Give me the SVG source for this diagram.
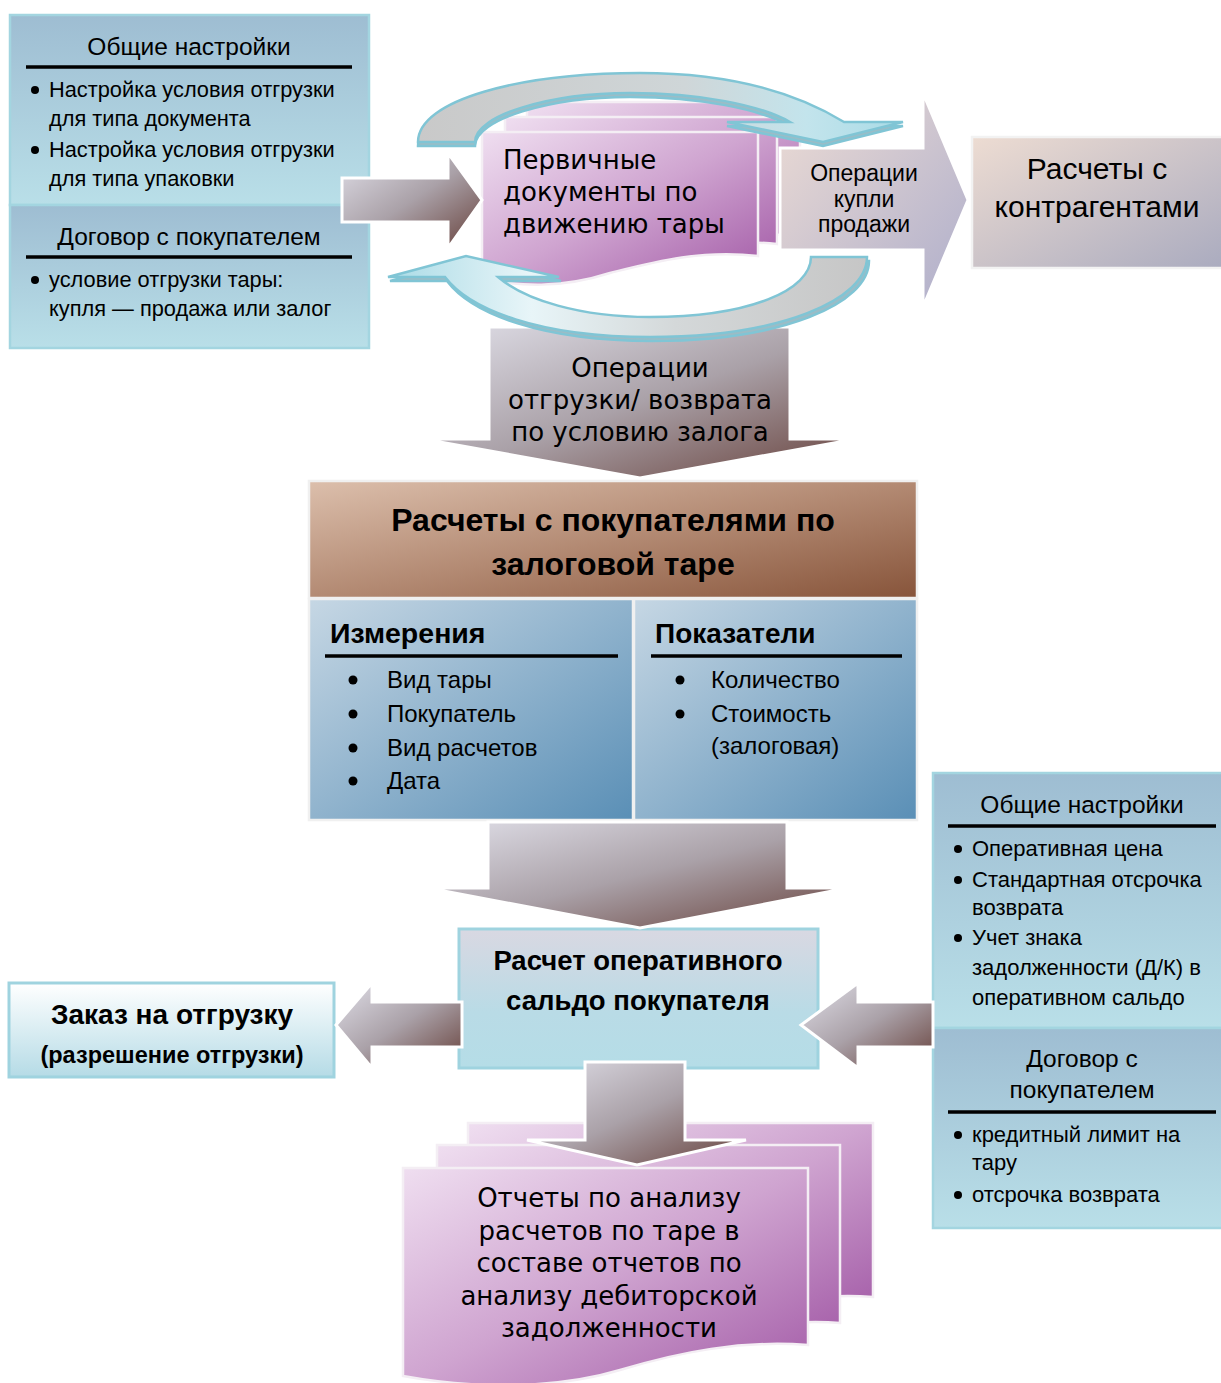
<svg xmlns="http://www.w3.org/2000/svg" width="1221" height="1383" viewBox="0 0 1221 1383">
<defs>
<linearGradient id="gBox" x1="0" y1="0" x2="0" y2="1"><stop offset="0" stop-color="#9ebdd2"/><stop offset="1" stop-color="#b9dfe8"/></linearGradient>
<linearGradient id="gArrow" x1="0" y1="0" x2="1" y2="1"><stop offset="0" stop-color="#e0dfe8"/><stop offset="0.5" stop-color="#aaa1a8"/><stop offset="1" stop-color="#66403a"/></linearGradient>
<linearGradient id="gPink" x1="0" y1="0" x2="1" y2="1"><stop offset="0" stop-color="#efdef0"/><stop offset="0.5" stop-color="#cfa4d0"/><stop offset="1" stop-color="#a35ba7"/></linearGradient>
<linearGradient id="gOps" x1="0" y1="0" x2="1" y2="1"><stop offset="0" stop-color="#eddcd4"/><stop offset="1" stop-color="#aeaecb"/></linearGradient>
<linearGradient id="gKontr" x1="0" y1="0" x2="1" y2="1"><stop offset="0" stop-color="#eddcd2"/><stop offset="1" stop-color="#aaabbf"/></linearGradient>
<linearGradient id="gBrown" x1="0" y1="0" x2="1" y2="1"><stop offset="0" stop-color="#dcbfac"/><stop offset="0.5" stop-color="#b38a73"/><stop offset="1" stop-color="#87543a"/></linearGradient>
<linearGradient id="gPanel" x1="0" y1="0" x2="1" y2="1"><stop offset="0" stop-color="#c6d7e4"/><stop offset="1" stop-color="#5a8fb6"/></linearGradient>
<linearGradient id="gCalc" x1="0" y1="0" x2="0" y2="1"><stop offset="0" stop-color="#d9d8e2"/><stop offset="0.6" stop-color="#b9dbe6"/><stop offset="1" stop-color="#b5dde7"/></linearGradient>
<linearGradient id="gOrder" x1="0" y1="0" x2="0" y2="1"><stop offset="0" stop-color="#ffffff"/><stop offset="1" stop-color="#b5dbe6"/></linearGradient>
<linearGradient id="gArcTop" x1="0" y1="0" x2="1" y2="0"><stop offset="0" stop-color="#c9c9c9"/><stop offset="0.55" stop-color="#cfd6d8"/><stop offset="0.8" stop-color="#c3e4ec"/><stop offset="1" stop-color="#a9dbe6"/></linearGradient>
<linearGradient id="gArcBot" x1="0" y1="0" x2="1" y2="0"><stop offset="0" stop-color="#aadbe6"/><stop offset="0.3" stop-color="#e8f5f8"/><stop offset="0.6" stop-color="#d4d8d9"/><stop offset="1" stop-color="#c6c6c6"/></linearGradient>
<style>
.t{font-family:"Liberation Sans",Arial,sans-serif;fill:#000}
.v{font-family:"DejaVu Sans",Verdana,sans-serif;fill:#000}
.b{font-weight:bold}
.box{stroke:#a3d5e0;stroke-width:2.5}
.arr{fill:url(#gArrow);stroke:#ffffff;stroke-width:3}
.doc{fill:url(#gPink);stroke:#f4eef4;stroke-width:2.5}
.arc{stroke:#80c5d5;stroke-width:2.5}
.ul{stroke:#000;stroke-width:3.5}
.dot{fill:#000}
</style>
</defs>
<rect width="1221" height="1383" fill="#ffffff"/>

<g id="node-settings-top">
<rect x="10" y="15" width="359" height="190" fill="url(#gBox)" class="box"/>
<rect x="10" y="205" width="359" height="143" fill="url(#gBox)" class="box"/>
<text x="189" y="55" class="t" font-size="24.5" text-anchor="middle">Общие настройки</text>
<line x1="26" y1="67" x2="352" y2="67" class="ul"/>
<circle cx="35" cy="90" r="4" class="dot"/>
<text x="49" y="97" class="t" font-size="21.8">Настройка условия отгрузки</text>
<text x="49" y="126" class="t" font-size="21.8">для типа документа</text>
<circle cx="35" cy="150" r="4" class="dot"/>
<text x="49" y="157" class="t" font-size="21.8">Настройка условия отгрузки</text>
<text x="49" y="186" class="t" font-size="21.8">для типа упаковки</text>
<text x="189" y="245" class="t" font-size="24.5" text-anchor="middle">Договор с покупателем</text>
<line x1="26" y1="257" x2="352" y2="257" class="ul"/>
<circle cx="35" cy="280" r="4" class="dot"/>
<text x="49" y="287" class="t" font-size="21.8">условие отгрузки тары:</text>
<text x="49" y="316" class="t" font-size="21.8">купля — продажа или залог</text>
</g>

<g id="node-primary-docs">
<path class="doc" d="M527,102 H800 V236 C745,230 695,246 655,258 C605,272 565,268 527,262 Z"/>
<path class="doc" d="M505,117 H777 V244 C720,238 670,252 630,264 C580,280 540,277 505,270 Z"/>
<path class="doc" d="M482,132 H758 V256 C700,249 650,263 610,273 C560,289 520,286 482,279 Z"/>
<text x="503" y="169" class="v" font-size="26">Первичные</text>
<text x="503" y="201" class="v" font-size="26">документы по</text>
<text x="503" y="233" class="v" font-size="26">движению тары</text>
</g>

<g id="node-kontragenty">
<rect x="972" y="137" width="252" height="131" fill="url(#gKontr)" stroke="#f2f2f2" stroke-width="2.5"/>
<text x="1097" y="179" class="t" font-size="30" text-anchor="middle">Расчеты с</text>
<text x="1097" y="217" class="t" font-size="30" text-anchor="middle">контрагентами</text>
</g>

<g id="node-main">
<rect x="309" y="481" width="608" height="117" fill="url(#gBrown)" stroke="#f0f0f0" stroke-width="2.5"/>
<text x="613" y="531" class="t b" font-size="32" text-anchor="middle">Расчеты с покупателями по</text>
<text x="613" y="575" class="t b" font-size="32" text-anchor="middle">залоговой таре</text>
<rect x="309" y="599" width="324" height="221" fill="url(#gPanel)" stroke="#f0f0f0" stroke-width="2.5"/>
<rect x="634" y="599" width="283" height="221" fill="url(#gPanel)" stroke="#f0f0f0" stroke-width="2.5"/>
<text x="330" y="643" class="t b" font-size="28.5">Измерения</text>
<line x1="325" y1="656" x2="618" y2="656" class="ul"/>
<circle cx="353" cy="680" r="4.5" class="dot"/>
<text x="387" y="688" class="t" font-size="24">Вид тары</text>
<circle cx="353" cy="714" r="4.5" class="dot"/>
<text x="387" y="722" class="t" font-size="24">Покупатель</text>
<circle cx="353" cy="748" r="4.5" class="dot"/>
<text x="387" y="756" class="t" font-size="24">Вид расчетов</text>
<circle cx="353" cy="781" r="4.5" class="dot"/>
<text x="387" y="789" class="t" font-size="24">Дата</text>
<text x="655" y="643" class="t b" font-size="28">Показатели</text>
<line x1="651" y1="656" x2="902" y2="656" class="ul"/>
<circle cx="680" cy="680" r="4.5" class="dot"/>
<text x="711" y="688" class="t" font-size="24">Количество</text>
<circle cx="680" cy="714" r="4.5" class="dot"/>
<text x="711" y="722" class="t" font-size="24">Стоимость</text>
<text x="711" y="754" class="t" font-size="24">(залоговая)</text>
</g>

<g id="node-settings-bottom">
<rect x="933" y="773" width="292" height="255" fill="url(#gBox)" class="box"/>
<rect x="933" y="1028" width="292" height="200" fill="url(#gBox)" class="box"/>
<text x="1082" y="813" class="t" font-size="24.5" text-anchor="middle">Общие настройки</text>
<line x1="948" y1="826" x2="1216" y2="826" class="ul"/>
<circle cx="958" cy="849" r="4" class="dot"/>
<text x="972" y="856" class="t" font-size="22">Оперативная цена</text>
<circle cx="958" cy="880" r="4" class="dot"/>
<text x="972" y="887" class="t" font-size="22">Стандартная отсрочка</text>
<text x="972" y="915" class="t" font-size="22">возврата</text>
<circle cx="958" cy="938" r="4" class="dot"/>
<text x="972" y="945" class="t" font-size="22">Учет знака</text>
<text x="972" y="975" class="t" font-size="22">задолженности (Д/К) в</text>
<text x="972" y="1005" class="t" font-size="22">оперативном сальдо</text>
<text x="1082" y="1067" class="t" font-size="24.5" text-anchor="middle">Договор с</text>
<text x="1082" y="1098" class="t" font-size="24.5" text-anchor="middle">покупателем</text>
<line x1="948" y1="1112" x2="1216" y2="1112" class="ul"/>
<circle cx="958" cy="1135" r="4" class="dot"/>
<text x="972" y="1142" class="t" font-size="22">кредитный лимит на</text>
<text x="972" y="1170" class="t" font-size="22">тару</text>
<circle cx="958" cy="1195" r="4" class="dot"/>
<text x="972" y="1202" class="t" font-size="22">отсрочка возврата</text>
</g>

<g id="node-calc">
<rect x="459" y="929" width="359" height="139" fill="url(#gCalc)" stroke="#9fd3df" stroke-width="3"/>
<text x="638" y="970" class="t b" font-size="27.5" text-anchor="middle">Расчет оперативного</text>
<text x="638" y="1010" class="t b" font-size="27.5" text-anchor="middle">сальдо покупателя</text>
</g>

<g id="node-order">
<rect x="9" y="983" width="325" height="94" fill="url(#gOrder)" stroke="#9fd3df" stroke-width="3"/>
<text x="172" y="1024" class="t b" font-size="28" text-anchor="middle">Заказ на отгрузку</text>
<text x="172" y="1063" class="t b" font-size="23.5" text-anchor="middle">(разрешение отгрузки)</text>
</g>

<g id="node-reports">
<path class="doc" d="M468,1123 H873 V1297 C810,1292 750,1306 700,1322 L468,1322 Z"/>
<path class="doc" d="M437,1145 H840 V1323 C780,1318 720,1332 670,1348 L437,1348 Z"/>
<path class="doc" d="M403,1168 H808 V1345 C740,1340 680,1352 620,1370 C560,1388 480,1390 403,1376 Z"/>
</g>

<g id="connectors">
<path class="arr" d="M342,178 H448 V153 L482,200 L448,248 V222 H342 Z"/>
<path d="M780,148 H923 V93 L968,200 L923,307 V250 H780 Z" fill="url(#gOps)" stroke="#ffffff" stroke-width="3"/>
<path class="arr" d="M489,327 H790 V439 H856 L640,478 L423,439 H489 Z"/>
<path class="arc" fill="#9bbcc6" d="M418,146 C418,104 520,77 640,77 C735,77 800,99 844,126 L903,126 L823,146 L727,126 L790,126 C760,109 700,97 630,97 C550,97 475,119 475,146 Z"/>
<path class="arc" fill="url(#gArcTop)" d="M418,142 C418,100 520,73 640,73 C735,73 800,95 844,122 L903,122 L823,142 L727,122 L790,122 C760,105 700,93 630,93 C550,93 475,115 475,142 Z"/>
<path class="arc" fill="#9bbcc6" d="M869,261 C869,304 782,341 652,341 C542,341 472,314 447,281 L390,281 L468,260 L561,281 L500,281 C527,304 582,321 652,321 C752,321 813,294 813,261 Z"/>
<path class="arc" fill="url(#gArcBot)" d="M867,257 C867,300 780,337 650,337 C540,337 470,310 445,277 L388,277 L466,256 L559,277 L498,277 C525,300 580,317 650,317 C750,317 811,290 811,257 Z"/>
<path class="arr" d="M488,822 H787 V888 H848 L640,928 L428,888 H488 Z"/>
<path class="arr" d="M462,1002 V1047 H372 V1068 L336,1025 L372,983 V1002 Z"/>
<path class="arr" d="M933,1002 V1047 H858 V1068 L801,1025 L858,983 V1002 Z"/>
<path class="arr" d="M585,1062 H685 V1140 H746 L637,1165 L527,1140 H585 Z"/>
</g>

<g id="labels">
<text x="864" y="181" class="t" font-size="23" text-anchor="middle">Операции</text>
<text x="864" y="207" class="t" font-size="23" text-anchor="middle">купли</text>
<text x="864" y="232" class="t" font-size="23" text-anchor="middle">продажи</text>
<text x="640" y="377" class="v" font-size="26" text-anchor="middle">Операции</text>
<text x="640" y="409" class="v" font-size="26" text-anchor="middle">отгрузки/ возврата</text>
<text x="640" y="441" class="v" font-size="26" text-anchor="middle">по условию залога</text>
<text x="609" y="1207" class="v" font-size="26" text-anchor="middle">Отчеты по анализу</text>
<text x="609" y="1240" class="v" font-size="26" text-anchor="middle">расчетов по таре в</text>
<text x="609" y="1272" class="v" font-size="26" text-anchor="middle">составе отчетов по</text>
<text x="609" y="1305" class="v" font-size="26" text-anchor="middle">анализу дебиторской</text>
<text x="609" y="1337" class="v" font-size="26" text-anchor="middle">задолженности</text>
</g>
</svg>
